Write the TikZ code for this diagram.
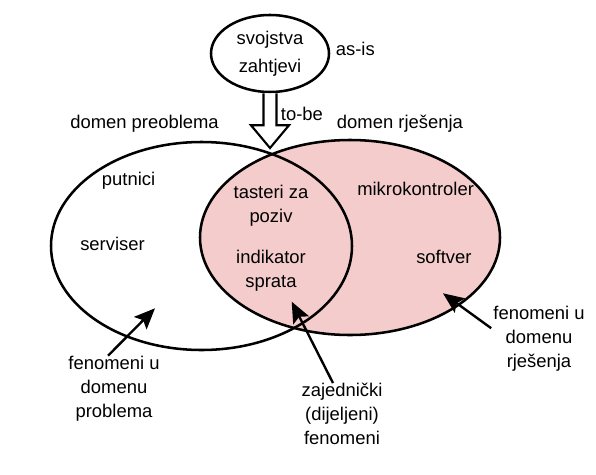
\documentclass[tikz,border=0pt]{standalone}
\usepackage{fontspec}
\setmainfont{Liberation Sans}
\usetikzlibrary{arrows.meta, calc, shapes.geometric}
\definecolor{cPink}{RGB}{245,204,204}

\begin{document}
\begin{tikzpicture}[
  >=Stealth,
  font=\fontsize{13.1}{17}\selectfont,
  dom/.style={draw, ellipse, line width=1.8pt, inner sep=0pt},
  lbl/.style={inner sep=0pt, align=center},
  ptr/.style={-{Stealth[length=0.52cm, width=0.44cm, inset=0.1cm]}, line width=1.7pt},
  bigarr/.style={draw, fill=white, line width=1.5pt, line join=miter}
]

%% Canvas
\useasboundingbox (0,0) rectangle (14.9,11.85);

%% Domains (solution first, so the problem outline stays on top)
\node[dom, fill=cPink, minimum width=7.5cm, minimum height=4.875cm]
  (dom_sol) at (8.75, 5.9125) {};
\node[dom, minimum width=7.525cm, minimum height=5.2cm]
  (dom_prob) at (5.0375, 5.7) {};

%% Requirements
\node[dom, fill=white, minimum width=2.95cm, minimum height=1.925cm, align=center]
  (req) at (6.75, 10.5125) {svojstva\\[3pt]zahtjevi};
\coordinate (tip_req) at (6.75, 8.15);

% hollow block arrow down to the crossing
\draw[bigarr] ($(req.south)+(-0.1625,0)$) -- ++(0,-0.8) -- ++(-0.3125,0)
  -- (tip_req) -- ($(req.south)+(0.475,-0.8)$) -- ++(-0.3125,0)
  -- ($(req.south)+(0.1625,0)$);

%% Titles
\node[lbl, anchor=base west] (as_is)  at (8.39, 10.475) {as-is};
\node[lbl, anchor=base west] (to_be)  at (7.0175, 8.85) {to-be};
\node[lbl, anchor=base west] (t_prob) at (1.75, 8.65)   {domen preoblema};
\node[lbl, anchor=base west] (t_sol)  at (8.4175, 8.65) {domen rješenja};

%% Phenomena
\node[lbl, anchor=base west] (putnici)  at (2.5425, 7.225) {putnici};
\node[lbl, anchor=base west] (serviser) at (2.0, 5.6)      {serviser};
\node[lbl, anchor=base west] (mikro)    at (8.925, 6.975)  {mikrokontroler};
\node[lbl, anchor=base west] (softver)  at (10.4, 5.275)   {softver};
\node[lbl] (tasteri)   at (6.775, 6.7)    {tasteri za\\poziv};
\node[lbl] (indikator) at (6.775, 5.0875) {indikator\\sprata};

%% Legend labels
\node[lbl] (lbl_prob)   at (2.85, 2.1375)  {fenomeni u\\domenu\\problema};
\node[lbl] (lbl_shared) at (8.55, 1.5)     {zajednički\\(dijeljeni)\\fenomeni};
\node[lbl] (lbl_sol)    at (13.475, 3.375) {fenomeni u\\domenu\\rješenja};

%% Pointers
\coordinate (tip_prob)   at (3.875, 4.1425);
\coordinate (tip_shared) at (7.2925, 4.3075);
\coordinate (tip_sol)    at (11.075, 4.5175);

\draw[ptr] ($(lbl_prob.north)+(-0.15,0)$)    -- (tip_prob);
\draw[ptr] ($(lbl_shared.north)+(-0.225,0)$) -- (tip_shared);
\draw[ptr] ($(lbl_sol.west)+(-0.05,0.27)$)   -- (tip_sol);

\end{tikzpicture}
\end{document}
